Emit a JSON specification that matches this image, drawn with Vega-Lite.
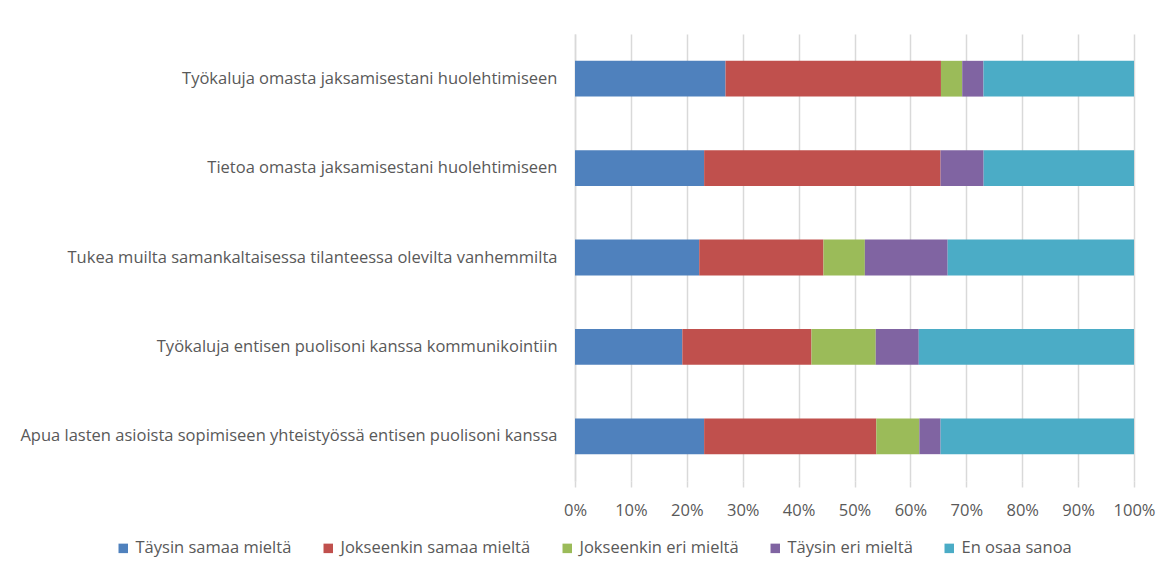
{
  "$schema": "https://vega.github.io/schema/vega-lite/v6.json",
  "autosize": {"type": "none"},
  "width": 559,
  "height": 447,
  "padding": {"left": 575, "top": 34, "right": 41, "bottom": 94},
  "background": "white",
  "data": {
    "values": [
      {"q": "Työkaluja omasta jaksamisestani huolehtimiseen", "a": "Täysin samaa mieltä", "i": 1, "p": 26.9},
      {"q": "Työkaluja omasta jaksamisestani huolehtimiseen", "a": "Jokseenkin samaa mieltä", "i": 2, "p": 38.5},
      {"q": "Työkaluja omasta jaksamisestani huolehtimiseen", "a": "Jokseenkin eri mieltä", "i": 3, "p": 3.8},
      {"q": "Työkaluja omasta jaksamisestani huolehtimiseen", "a": "Täysin eri mieltä", "i": 4, "p": 3.8},
      {"q": "Työkaluja omasta jaksamisestani huolehtimiseen", "a": "En osaa sanoa", "i": 5, "p": 26.9},
      {"q": "Tietoa omasta jaksamisestani huolehtimiseen", "a": "Täysin samaa mieltä", "i": 1, "p": 23.1},
      {"q": "Tietoa omasta jaksamisestani huolehtimiseen", "a": "Jokseenkin samaa mieltä", "i": 2, "p": 42.3},
      {"q": "Tietoa omasta jaksamisestani huolehtimiseen", "a": "Jokseenkin eri mieltä", "i": 3, "p": 0},
      {"q": "Tietoa omasta jaksamisestani huolehtimiseen", "a": "Täysin eri mieltä", "i": 4, "p": 7.7},
      {"q": "Tietoa omasta jaksamisestani huolehtimiseen", "a": "En osaa sanoa", "i": 5, "p": 26.9},
      {"q": "Tukea muilta samankaltaisessa tilanteessa olevilta vanhemmilta", "a": "Täysin samaa mieltä", "i": 1, "p": 22.2},
      {"q": "Tukea muilta samankaltaisessa tilanteessa olevilta vanhemmilta", "a": "Jokseenkin samaa mieltä", "i": 2, "p": 22.2},
      {"q": "Tukea muilta samankaltaisessa tilanteessa olevilta vanhemmilta", "a": "Jokseenkin eri mieltä", "i": 3, "p": 7.4},
      {"q": "Tukea muilta samankaltaisessa tilanteessa olevilta vanhemmilta", "a": "Täysin eri mieltä", "i": 4, "p": 14.8},
      {"q": "Tukea muilta samankaltaisessa tilanteessa olevilta vanhemmilta", "a": "En osaa sanoa", "i": 5, "p": 33.3},
      {"q": "Työkaluja entisen puolisoni kanssa kommunikointiin", "a": "Täysin samaa mieltä", "i": 1, "p": 19.2},
      {"q": "Työkaluja entisen puolisoni kanssa kommunikointiin", "a": "Jokseenkin samaa mieltä", "i": 2, "p": 23.1},
      {"q": "Työkaluja entisen puolisoni kanssa kommunikointiin", "a": "Jokseenkin eri mieltä", "i": 3, "p": 11.5},
      {"q": "Työkaluja entisen puolisoni kanssa kommunikointiin", "a": "Täysin eri mieltä", "i": 4, "p": 7.7},
      {"q": "Työkaluja entisen puolisoni kanssa kommunikointiin", "a": "En osaa sanoa", "i": 5, "p": 38.5},
      {"q": "Apua lasten asioista sopimiseen yhteistyössä entisen puolisoni kanssa", "a": "Täysin samaa mieltä", "i": 1, "p": 23.1},
      {"q": "Apua lasten asioista sopimiseen yhteistyössä entisen puolisoni kanssa", "a": "Jokseenkin samaa mieltä", "i": 2, "p": 30.8},
      {"q": "Apua lasten asioista sopimiseen yhteistyössä entisen puolisoni kanssa", "a": "Jokseenkin eri mieltä", "i": 3, "p": 7.7},
      {"q": "Apua lasten asioista sopimiseen yhteistyössä entisen puolisoni kanssa", "a": "Täysin eri mieltä", "i": 4, "p": 3.8},
      {"q": "Apua lasten asioista sopimiseen yhteistyössä entisen puolisoni kanssa", "a": "En osaa sanoa", "i": 5, "p": 34.6}
    ]
  },
  "mark": {"type": "bar"},
  "encoding": {
    "y": {
      "field": "q",
      "type": "nominal",
      "sort": [
        "Työkaluja omasta jaksamisestani huolehtimiseen",
        "Tietoa omasta jaksamisestani huolehtimiseen",
        "Tukea muilta samankaltaisessa tilanteessa olevilta vanhemmilta",
        "Työkaluja entisen puolisoni kanssa kommunikointiin",
        "Apua lasten asioista sopimiseen yhteistyössä entisen puolisoni kanssa"
      ],
      "scale": {"paddingInner": 0.6, "paddingOuter": 0.3},
      "axis": {
        "title": null,
        "ticks": false,
        "domain": true,
        "domainColor": "#d9d9d9",
        "domainWidth": 1.5,
        "labelPadding": 18,
        "labelFont": "Open Sans",
        "labelFontSize": 16.5,
        "labelColor": "#595959",
        "labelLimit": 600
      }
    },
    "x": {
      "field": "p",
      "type": "quantitative",
      "stack": "normalize",
      "scale": {"domain": [0, 1]},
      "axis": {
        "title": null,
        "format": ".0%",
        "values": [0, 0.1, 0.2, 0.3, 0.4, 0.5, 0.6, 0.7, 0.8, 0.9, 1],
        "labelOverlap": false,
        "domain": false,
        "ticks": true,
        "tickSize": 6,
        "tickColor": "#d9d9d9",
        "tickWidth": 1.5,
        "grid": true,
        "gridColor": "#d9d9d9",
        "gridWidth": 1.5,
        "labelPadding": 15,
        "labelFont": "Open Sans",
        "labelFontSize": 16.5,
        "labelColor": "#595959",
        "labelFlush": false
      }
    },
    "order": {"field": "i", "type": "quantitative", "sort": "ascending"},
    "color": {
      "field": "a",
      "type": "nominal",
      "sort": ["Täysin samaa mieltä", "Jokseenkin samaa mieltä", "Jokseenkin eri mieltä", "Täysin eri mieltä", "En osaa sanoa"],
      "scale": {
        "domain": ["Täysin samaa mieltä", "Jokseenkin samaa mieltä", "Jokseenkin eri mieltä", "Täysin eri mieltä", "En osaa sanoa"],
        "range": ["#4f81bd", "#c0504d", "#9bbb59", "#8064a2", "#4bacc6"]
      },
      "legend": {
        "title": null,
        "orient": "none",
        "direction": "horizontal",
        "legendX": -460,
        "legendY": 506,
        "symbolType": "square",
        "symbolSize": 90,
        "symbolStrokeWidth": 0,
        "symbolOpacity": 1,
        "labelFont": "Open Sans",
        "labelFontSize": 16.5,
        "labelColor": "#595959",
        "labelOffset": 4,
        "columnPadding": 28,
        "labelLimit": 300
      }
    }
  },
  "config": {"view": {"stroke": null}}
}
